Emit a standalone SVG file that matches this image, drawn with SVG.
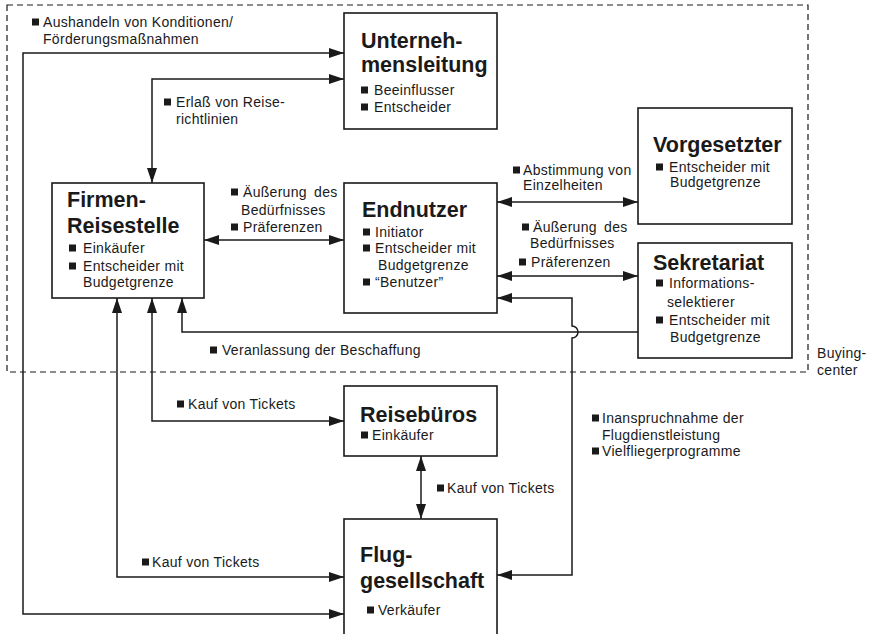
<svg xmlns="http://www.w3.org/2000/svg" width="869" height="634" viewBox="0 0 869 634">
<style>
.t{font-family:"Liberation Sans",Arial,sans-serif;font-size:14px;letter-spacing:0.3px;fill:#1a1a1a}
.h{font-weight:bold;font-size:21.5px;letter-spacing:0}
.box{fill:#fff;stroke:#1a1a1a;stroke-width:1.6}
.c{fill:none;stroke:#1a1a1a;stroke-width:1.5}
.ws{word-spacing:3px}
</style>
<defs>
<marker id="a" markerUnits="userSpaceOnUse" markerWidth="16" markerHeight="11" refX="15" refY="5" orient="auto-start-reverse">
<path d="M0,0 L15,5 L0,10 z" fill="#1a1a1a"/>
</marker>
<rect id="b" width="7" height="7" fill="#1a1a1a"/>
</defs>
<rect width="869" height="634" fill="#fff"/>
<rect x="7" y="5" width="801" height="367" fill="none" stroke="#1a1a1a" stroke-width="1.2" stroke-dasharray="6 4"/>
<text class="t" x="817" y="358">Buying-</text>
<text class="t" x="817" y="375">center</text>

<g id="connectors">
<path class="c" d="M344,53 H23 V614 H344" marker-start="url(#a)" marker-end="url(#a)"/>
<path class="c" d="M344,79 H152 V183" marker-start="url(#a)" marker-end="url(#a)"/>
<path class="c" d="M204,240 H344" marker-start="url(#a)" marker-end="url(#a)"/>
<path class="c" d="M497,202 H638" marker-start="url(#a)" marker-end="url(#a)"/>
<path class="c" d="M497,276 H638" marker-start="url(#a)" marker-end="url(#a)"/>
<path class="c" d="M638,332 H182 V298" marker-end="url(#a)"/>
<path class="c" d="M497,298 H572 V326 A6,6 0 0 1 572,338 V575 H497" marker-start="url(#a)" marker-end="url(#a)"/>
<path class="c" d="M152,298 V421 H344" marker-start="url(#a)" marker-end="url(#a)"/>
<path class="c" d="M117,298 V577 H344" marker-start="url(#a)" marker-end="url(#a)"/>
<path class="c" d="M421,456 V519" marker-start="url(#a)" marker-end="url(#a)"/>
</g>

<g id="labels">
<use href="#b" x="32" y="18.5"/><text class="t" x="43" y="27">Aushandeln von Konditionen/</text>
<text class="t" x="43" y="44">Förderungsmaßnahmen</text>
<use href="#b" x="164" y="98.5"/><text class="t" x="176" y="107">Erlaß von Reise-</text>
<text class="t" x="176" y="124">richtlinien</text>
<use href="#b" x="231" y="188.5"/><text class="t ws" x="243" y="197">Äußerung des</text>
<text class="t" x="241" y="215">Bedürfnisses</text>
<use href="#b" x="231" y="223.5"/><text class="t" x="243" y="232">Präferenzen</text>
<use href="#b" x="513" y="166.5"/><text class="t" x="523" y="175">Abstimmung von</text>
<text class="t" x="523" y="190">Einzelheiten</text>
<use href="#b" x="522" y="223.5"/><text class="t ws" x="533" y="232">Äußerung des</text>
<text class="t" x="530" y="248">Bedürfnisses</text>
<use href="#b" x="519" y="258.5"/><text class="t" x="531" y="267">Präferenzen</text>
<use href="#b" x="210" y="346.5"/><text class="t" x="222" y="355">Veranlassung der Beschaffung</text>
<use href="#b" x="177" y="400.5"/><text class="t" x="188" y="409">Kauf von Tickets</text>
<use href="#b" x="437" y="484.5"/><text class="t" x="447" y="493">Kauf von Tickets</text>
<use href="#b" x="142" y="558.5"/><text class="t" x="152" y="567">Kauf von Tickets</text>
<use href="#b" x="592" y="414.5"/><text class="t" x="602" y="423">Inanspruchnahme der</text>
<text class="t" x="602" y="440">Flugdienstleistung</text>
<use href="#b" x="592" y="447.5"/><text class="t" x="602" y="456">Vielfliegerprogramme</text>
</g>

<g id="unternehmensleitung">
<rect class="box" x="344" y="13" width="153" height="116"/>
<text class="t h" x="361" y="48">Unterneh-</text>
<text class="t h" x="361" y="72">mensleitung</text>
<use href="#b" x="361" y="86.5"/><text class="t" x="374" y="95">Beeinflusser</text>
<use href="#b" x="361" y="103.5"/><text class="t" x="374" y="112">Entscheider</text>
</g>

<g id="firmen-reisestelle">
<rect class="box" x="52" y="183" width="152" height="115"/>
<text class="t h" x="67" y="207">Firmen-</text>
<text class="t h" x="67" y="233">Reisestelle</text>
<use href="#b" x="69" y="244.5"/><text class="t" x="83" y="253">Einkäufer</text>
<use href="#b" x="69" y="262.5"/><text class="t" x="83" y="271">Entscheider mit</text>
<text class="t" x="83" y="287">Budgetgrenze</text>
</g>

<g id="endnutzer">
<rect class="box" x="344" y="183" width="153" height="130"/>
<text class="t h" x="362" y="217">Endnutzer</text>
<use href="#b" x="363" y="228.5"/><text class="t" x="375" y="237">Initiator</text>
<use href="#b" x="363" y="244.5"/><text class="t" x="375" y="253">Entscheider mit</text>
<text class="t" x="378" y="270">Budgetgrenze</text>
<use href="#b" x="363" y="278.5"/><text class="t" x="375" y="287">“Benutzer”</text>
</g>

<g id="vorgesetzter">
<rect class="box" x="638" y="108" width="154" height="116"/>
<text class="t h" x="653" y="152">Vorgesetzter</text>
<use href="#b" x="656" y="163.5"/><text class="t" x="669" y="172">Entscheider mit</text>
<text class="t" x="670" y="187">Budgetgrenze</text>
</g>

<g id="sekretariat">
<rect class="box" x="638" y="243" width="154" height="115"/>
<text class="t h" x="653" y="270">Sekretariat</text>
<use href="#b" x="656" y="279.5"/><text class="t" x="669" y="288">Informations-</text>
<text class="t" x="667" y="307">selektierer</text>
<use href="#b" x="656" y="316.5"/><text class="t" x="669" y="325">Entscheider mit</text>
<text class="t" x="670" y="342">Budgetgrenze</text>
</g>

<g id="reisebueros">
<rect class="box" x="344" y="386" width="153" height="70"/>
<text class="t h" x="360" y="422">Reisebüros</text>
<use href="#b" x="361" y="431.5"/><text class="t" x="372" y="440">Einkäufer</text>
</g>

<g id="fluggesellschaft">
<rect class="box" x="344" y="519" width="153" height="130"/>
<text class="t h" x="360" y="562">Flug-</text>
<text class="t h" x="360" y="588">gesellschaft</text>
<use href="#b" x="367" y="606.5"/><text class="t" x="378" y="615">Verkäufer</text>
</g>
</svg>
